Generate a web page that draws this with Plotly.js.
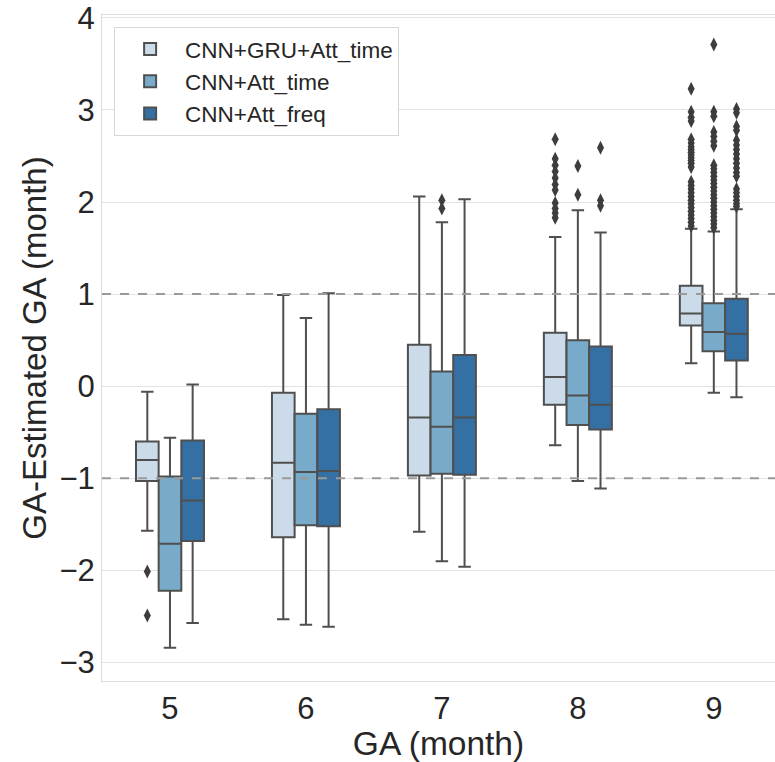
<!DOCTYPE html>
<html>
<head>
<meta charset="utf-8">
<script src="https://cdn.plot.ly/plotly-3.0.1.min.js"></script>
<style>html,body{margin:0;padding:0;background:#fff;overflow:hidden;}</style>
</head>
<body>
<div id="chart" style="width:775px;height:762px;"></div>
<script>
// ---- data ----
const categories = ['5', '6', '7', '8', '9'];
const models = ['CNN+GRU+Att_time', 'CNN+Att_time', 'CNN+Att_freq'];
const colors = ['#cbdbea', '#78abc9', '#3470a3'];

// CNN+GRU+Att_time
const m1_lower  = [-1.57, -2.53, -1.58, -0.64, 0.25];
const m1_q1     = [-1.03, -1.64, -0.97, -0.20, 0.66];
const m1_median = [-0.80, -0.83, -0.34,  0.10, 0.79];
const m1_q3     = [-0.60, -0.07,  0.45,  0.58, 1.09];
const m1_upper  = [-0.06,  0.99,  2.06,  1.62, 1.71];
const m1_out = [
  [-2.01, -2.49],
  [],
  [],
  [2.68, 2.47, 2.40, 2.33, 2.26, 2.19, 2.13, 1.99, 1.93, 1.88, 1.83],
  [3.23, 2.98, 2.92, 2.88, 2.68, 2.64, 2.60, 2.57, 2.54, 2.51, 2.48, 2.45, 2.42, 2.38,
   2.22, 2.18, 2.14, 2.10, 2.06, 2.02, 1.98, 1.94, 1.90, 1.86, 1.82, 1.78, 1.74]
];

// CNN+Att_time
const m2_lower  = [-2.84, -2.59, -1.90, -1.03, -0.07];
const m2_q1     = [-2.22, -1.51, -0.95, -0.42,  0.38];
const m2_median = [-1.71, -0.93, -0.44, -0.10,  0.59];
const m2_q3     = [-0.98, -0.30,  0.16,  0.50,  0.90];
const m2_upper  = [-0.56,  0.74,  1.78,  1.91,  1.68];
const m2_out = [
  [],
  [],
  [2.02, 1.93],
  [2.39, 2.08],
  [3.71, 2.98, 2.93, 2.76, 2.71, 2.66, 2.61, 2.40, 2.36, 2.32, 2.28, 2.24, 2.20, 2.16,
   2.12, 2.08, 2.04, 2.00, 1.96, 1.92, 1.88, 1.84, 1.80, 1.76, 1.72]
];

// CNN+Att_freq
const m3_lower  = [-2.57, -2.61, -1.96, -1.11, -0.12];
const m3_q1     = [-1.68, -1.52, -0.96, -0.47,  0.28];
const m3_median = [-1.24, -0.92, -0.34, -0.20,  0.57];
const m3_q3     = [-0.59, -0.25,  0.34,  0.43,  0.95];
const m3_upper  = [ 0.02,  1.01,  2.03,  1.67,  1.92];
const m3_out = [
  [],
  [],
  [],
  [2.59, 2.02, 1.96],
  [3.01, 2.97, 2.82, 2.78, 2.67, 2.62, 2.57, 2.52, 2.47, 2.42, 2.37, 2.32, 2.28,
   2.14, 2.10, 2.06, 2.02, 1.98, 1.95]
];

const yTicks = [-3, -2, -1, 0, 1, 2, 3, 4];
const refLines = [1, -1];

// ---- build traces ----
const stats = [
  {lower: m1_lower, q1: m1_q1, median: m1_median, q3: m1_q3, upper: m1_upper, out: m1_out},
  {lower: m2_lower, q1: m2_q1, median: m2_median, q3: m2_q3, upper: m2_upper, out: m2_out},
  {lower: m3_lower, q1: m3_q1, median: m3_median, q3: m3_q3, upper: m3_upper, out: m3_out}
];
const groupWidth = 0.5;
const boxW = groupWidth / models.length;
const lineColor = '#4f4f4f';

const traces = [];
stats.forEach((s, k) => {
  const off = -groupWidth / 2 + boxW * (k + 0.5);
  const xs = categories.map((c, i) => i + off);
  traces.push({
    type: 'box',
    name: models[k],
    x: xs,
    q1: s.q1, median: s.median, q3: s.q3,
    lowerfence: s.lower, upperfence: s.upper,
    width: boxW,
    whiskerwidth: 0.55,
    boxpoints: false,
    fillcolor: colors[k],
    line: {color: lineColor, width: 2},
    hoverinfo: 'skip'
  });
});
stats.forEach((s, k) => {
  const off = -groupWidth / 2 + boxW * (k + 0.5);
  const ox = [], oy = [];
  s.out.forEach((arr, i) => arr.forEach(v => { ox.push(i + off); oy.push(v); }));
  traces.push({
    type: 'scatter', mode: 'markers', x: ox, y: oy, showlegend: false,
    marker: {symbol: 'diamond-tall', size: 10, color: '#3d3d3d', line: {width: 0}},
    hoverinfo: 'skip'
  });
});

const shapes = refLines.map(v => ({
  type: 'line', xref: 'paper', x0: 0, x1: 1, yref: 'y', y0: v, y1: v,
  line: {color: '#9a9a9a', width: 2, dash: 'dash'}, layer: 'above'
}));

const font = 'Liberation Sans, Arial, sans-serif';
const layout = {
  width: 775, height: 762,
  margin: {l: 102, r: 0, t: 15, b: 81},
  paper_bgcolor: '#ffffff', plot_bgcolor: '#ffffff',
  font: {family: font, color: '#262626'},
  showlegend: true,
  legend: {
    x: 0.018, y: 0.982, xanchor: 'left', yanchor: 'top',
    bgcolor: '#ffffff', bordercolor: '#d6d6d6', borderwidth: 1,
    font: {size: 22.5, family: font, color: '#262626'},
    itemwidth: 60, traceorder: 'normal'
  },
  xaxis: {
    range: [-0.5, 4.45],
    tickmode: 'array', tickvals: categories.map((c, i) => i), ticktext: categories,
    showgrid: false, zeroline: false,
    showline: true, linecolor: '#dcdcdc', linewidth: 1, mirror: true,
    ticks: '', tickfont: {size: 31, color: '#262626'},
    title: {text: 'GA (month)', font: {size: 33.5, color: '#262626'}, standoff: 4}
  },
  yaxis: {
    range: [-3.2, 4.03],
    tickmode: 'array', tickvals: yTicks, ticktext: yTicks.map(v => v < 0 ? '\u2212' + Math.abs(v) : String(v)),
    showgrid: true, gridcolor: '#e2e2e2', gridwidth: 1, zeroline: false,
    showline: true, linecolor: '#dcdcdc', linewidth: 1, mirror: true,
    ticks: '', tickfont: {size: 31, color: '#262626'},
    title: {text: 'GA-Estimated GA (month)', font: {size: 33, color: '#262626'}, standoff: 2}
  },
  shapes: shapes
};

Plotly.newPlot('chart', traces, layout, {displayModeBar: false, staticPlot: true});
</script>
</body>
</html>
